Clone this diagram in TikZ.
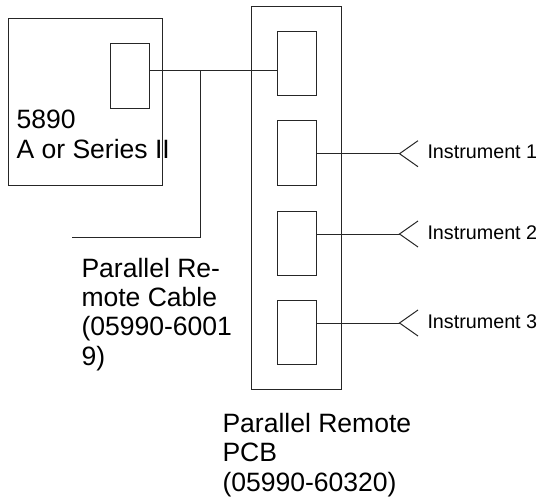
\documentclass[tikz,border=0pt]{standalone}
\usepackage{fontspec}
\setmainfont{Liberation Sans}
\usepackage{tikz}

\begin{document}
\begin{tikzpicture}[x=0.75pt,y=-0.75pt,line width=0.75pt,draw=black!85,
  box/.style={draw,minimum width=#1,inner sep=0pt,outer sep=0pt},
  slot/.style={draw,minimum width=29.25pt,minimum height=48pt,inner sep=0pt,outer sep=0pt},
  biglbl/.style={anchor=base west,align=left,inner sep=0pt,font=\fontsize{19.9}{21.8}\selectfont},
  smalllbl/.style={anchor=base west,inner sep=0pt,font=\fontsize{14.8}{17}\selectfont}]
\useasboundingbox (0,0) rectangle (542,499);
% gas chromatograph and its port
\node[box=115.5pt,minimum height=124.5pt] (gc) at (85,102) {};
\node[box=29.25pt,minimum height=48.75pt] (port) at (129.5,76.5) {};
\node[biglbl] (gclbl) at (16,158) {5890\\A or Series II};
% remote board
\node[box=67.5pt,minimum height=287.5pt] (pcb) at (296,198.3) {};
\node[slot] (slota) at (296.5,64) {};
\node[slot] (slotb) at (296.5,153) {};
\node[slot] (slotc) at (296.5,243) {};
\node[slot] (slotd) at (296.5,332.5) {};
% cable
\coordinate (junction) at (200,70.7);
\coordinate (cableend) at (72,237);
\draw (port.east |- junction) -- (slota.west |- junction);
\draw (junction) |- (cableend);
\node[biglbl] (cablelbl) at (81,365) {Parallel Re-\\mote Cable\\(05990-6001\\9)};
\node[biglbl] (pcblbl) at (222,491) {Parallel Remote\\PCB\\(05990-60320)};
% instruments
\coordinate (tipa) at (399.5,153.7);
\coordinate (tipb) at (399.5,234);
\coordinate (tipc) at (399.5,323);
\draw (slotb.east |- tipa) -- (tipa);
\draw (slotc.east |- tipb) -- (tipb);
\draw (slotd.east |- tipc) -- (tipc);
\draw (418,140.7) -- (tipa) -- (418,166.7);
\draw (418,221) -- (tipb) -- (418,247);
\draw (418,310) -- (tipc) -- (418,336);
\node[smalllbl] (insta) at (427,159) {Instrument 1};
\node[smalllbl] (instb) at (427,239.5) {Instrument 2};
\node[smalllbl] (instc) at (427,328.5) {Instrument 3};
\end{tikzpicture}
\end{document}
